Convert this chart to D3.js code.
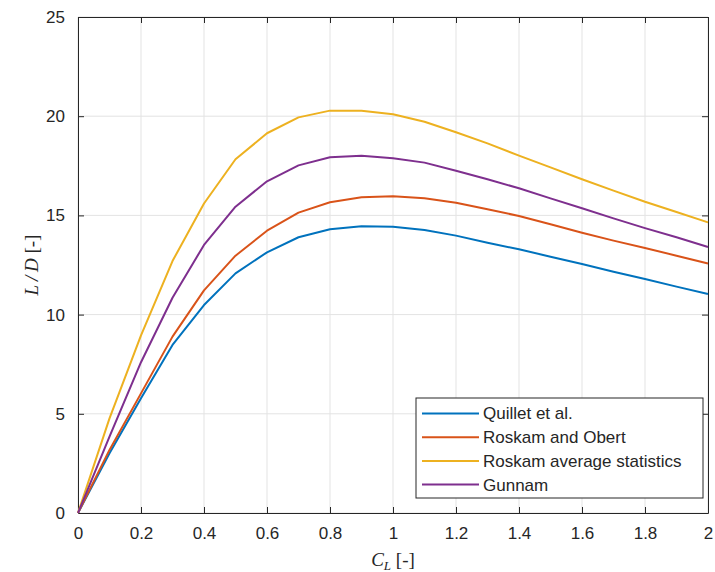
<!DOCTYPE html>
<html>
<head>
<meta charset="utf-8">
<script src="https://cdn.jsdelivr.net/npm/d3@7/dist/d3.min.js"></script>
<style>
  body { margin: 0; background: #fff; }
  text { font-family: "Liberation Sans", Arial, sans-serif; fill: #262626; }
  .lbl { font-family: "Liberation Serif", "DejaVu Serif", serif; }
</style>
</head>
<body>
<div id="chart"></div>
<script>
// Lift coefficient values (x axis)
var cl = [0, 0.1, 0.2, 0.3, 0.4, 0.5, 0.6, 0.7, 0.8, 0.9, 1.0,
          1.1, 1.2, 1.3, 1.4, 1.5, 1.6, 1.7, 1.8, 1.9, 2.0];

// L/D for each method
var quillet = [0, 3.01, 5.78, 8.47, 10.48, 12.08, 13.14, 13.9, 14.3, 14.45, 14.43,
               14.26, 13.98, 13.62, 13.29, 12.92, 12.55, 12.16, 11.79, 11.41, 11.04];
var roskamObert = [0, 3.18, 6.03, 8.89, 11.22, 12.97, 14.23, 15.14, 15.66, 15.91, 15.96,
                   15.86, 15.64, 15.31, 14.97, 14.55, 14.13, 13.73, 13.36, 12.97, 12.58];
var roskamAvg = [0, 4.77, 8.95, 12.7, 15.6, 17.83, 19.14, 19.94, 20.28, 20.28, 20.1,
                 19.72, 19.19, 18.63, 18.01, 17.42, 16.82, 16.25, 15.69, 15.17, 14.65];
var gunnam = [0, 3.85, 7.6, 10.85, 13.51, 15.44, 16.72, 17.52, 17.93, 18.01, 17.88,
              17.66, 17.25, 16.82, 16.37, 15.86, 15.36, 14.85, 14.36, 13.9, 13.41];

var seriesNames = ['Quillet et al.', 'Roskam and Obert', 'Roskam average statistics', 'Gunnam'];
var seriesValues = [quillet, roskamObert, roskamAvg, gunnam];
var seriesColours = ['#0072BD', '#D95319', '#EDB120', '#7E2F8E'];

var xTicks = [0, 0.2, 0.4, 0.6, 0.8, 1, 1.2, 1.4, 1.6, 1.8, 2];
var yTicks = [0, 5, 10, 15, 20, 25];

function createChart() {
  var canvasWidth = 715;
  var canvasHeight = 572;

  var margin = { top: 17, right: 7, left: 78, bottom: 59 };
  var w = canvasWidth - margin.left - margin.right;
  var h = canvasHeight - margin.top - margin.bottom;

  var svg = d3.select('#chart')
    .append('svg')
    .attr('width', canvasWidth)
    .attr('height', canvasHeight);

  var inner = svg.append('g')
    .attr('transform', 'translate(' + margin.left + ',' + margin.top + ')');

  return [svg, inner, w, h, margin];
}

function renderChart(svg, g, w, h, margin) {
  var xScale = d3.scaleLinear().domain([0, 2]).range([0, w]);
  var yScale = d3.scaleLinear().domain([0, 25]).range([h, 0]);

  // Grid lines
  g.append('g')
    .selectAll('line')
    .data(xTicks)
    .enter()
    .append('line')
    .attr('x1', d => xScale(d)).attr('x2', d => xScale(d))
    .attr('y1', 0).attr('y2', h)
    .style('stroke', '#e3e3e3').style('stroke-width', 1);

  g.append('g')
    .selectAll('line')
    .data(yTicks)
    .enter()
    .append('line')
    .attr('x1', 0).attr('x2', w)
    .attr('y1', d => yScale(d)).attr('y2', d => yScale(d))
    .style('stroke', '#e3e3e3').style('stroke-width', 1);

  // Axes, ticks pointing inward on all four sides (MATLAB box style)
  var tickLen = 6;
  var axisStyle = function(sel) {
    sel.select('.domain').style('stroke', '#262626');
    sel.selectAll('.tick line').style('stroke', '#262626');
    sel.selectAll('text').style('font-size', '17px').style('fill', '#262626');
  };

  g.append('g')
    .attr('transform', 'translate(0,' + h + ')')
    .call(d3.axisBottom(xScale).tickValues(xTicks).tickSize(-tickLen).tickSizeOuter(0)
      .tickPadding(14).tickFormat(d3.format('')))
    .call(axisStyle);

  g.append('g')
    .call(d3.axisTop(xScale).tickValues(xTicks).tickSize(-tickLen).tickSizeOuter(0)
      .tickFormat(''))
    .call(axisStyle);

  g.append('g')
    .call(d3.axisLeft(yScale).tickValues(yTicks).tickSize(-tickLen).tickSizeOuter(0)
      .tickPadding(13))
    .call(axisStyle);

  g.append('g')
    .attr('transform', 'translate(' + w + ',0)')
    .call(d3.axisRight(yScale).tickValues(yTicks).tickSize(-tickLen).tickSizeOuter(0)
      .tickFormat(''))
    .call(axisStyle);

  // Data lines
  var line = d3.line()
    .x((d, i) => xScale(cl[i]))
    .y(d => yScale(d));

  g.selectAll('path.series')
    .data(seriesValues)
    .enter()
    .append('path')
    .attr('class', 'series')
    .attr('d', line)
    .style('fill', 'none')
    .style('stroke', (d, i) => seriesColours[i])
    .style('stroke-width', 2)
    .style('stroke-linejoin', 'round');

  // Legend
  var legend = svg.append('g').attr('transform', 'translate(416,398)');
  legend.append('rect')
    .attr('width', 287).attr('height', 100)
    .style('fill', '#fff').style('stroke', '#262626').style('stroke-width', 1);

  var rows = legend.selectAll('g.row')
    .data(seriesNames)
    .enter()
    .append('g')
    .attr('transform', (d, i) => 'translate(0,' + (15.5 + i * 23.7) + ')');

  rows.append('line')
    .attr('x1', 6).attr('x2', 63)
    .style('stroke', (d, i) => seriesColours[i])
    .style('stroke-width', 2);

  rows.append('text')
    .attr('x', 67).attr('dy', '0.35em')
    .style('font-size', '17px')
    .text(d => d);

  // Axis labels
  var xl = svg.append('text')
    .attr('class', 'lbl')
    .attr('x', margin.left + w / 2)
    .attr('y', 566)
    .attr('text-anchor', 'middle')
    .style('font-size', '19px');
  xl.append('tspan').style('font-style', 'italic').text('C');
  xl.append('tspan').style('font-style', 'italic').style('font-size', '13px')
    .attr('dy', 4).text('L');
  xl.append('tspan').attr('dy', -4).text(' [-]');

  var yl = svg.append('text')
    .attr('class', 'lbl')
    .attr('transform', 'translate(38,' + (margin.top + h / 2) + ') rotate(-90)')
    .attr('text-anchor', 'middle')
    .style('font-size', '19px');
  yl.append('tspan').style('font-style', 'italic').text('L\u2009/\u2009D');
  yl.append('tspan').text(' [-]');
}

var parts = createChart();
renderChart(parts[0], parts[1], parts[2], parts[3], parts[4]);
</script>
</body>
</html>
